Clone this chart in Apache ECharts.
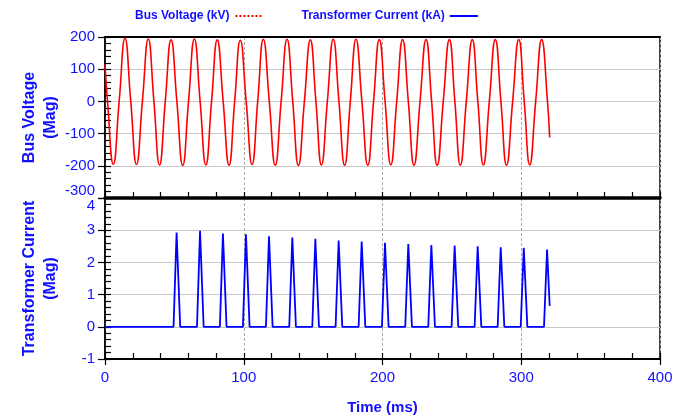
<!DOCTYPE html>
<html>
<head>
<meta charset="utf-8">
<script src="https://cdn.jsdelivr.net/npm/echarts@6/dist/echarts.min.js"></script>
<style>html,body{margin:0;padding:0;background:#fff}#c{width:683px;height:419px}</style>
</head>
<body>
<div id="c"></div>
<script>
// Bus voltage (kV): extremes and zero crossings
var voltageTimes = [0, 1.8, 6.0, 10.2, 14.4, 18.55, 22.7, 26.95, 31.2, 35.25, 39.3, 43.45, 47.6, 51.8, 56.0, 60.2, 64.4, 68.55, 72.7, 76.8, 80.9, 85.15, 89.4, 93.45, 97.5, 101.75, 106.0, 110.05, 114.1, 118.4, 122.7, 126.95, 131.2, 135.3, 139.4, 143.7, 148.0, 152.0, 156.0, 160.25, 164.5, 168.6, 172.7, 176.8, 180.9, 185.15, 189.4, 193.55, 197.7, 201.85, 206.0, 210.25, 214.5, 218.6, 222.7, 227.05, 231.4, 235.4, 239.4, 243.8, 248.2, 252.15, 256.1, 260.4, 264.7, 268.7, 272.7, 277.0, 281.3, 285.35, 289.4, 293.8, 298.2, 302.15, 306.1, 310.4, 314.7, 318.9, 320.5];
var voltageValues = [115, 0, -195, 0, 196, 0, -196, 0, 194, 0, -197, 0, 191, 0, -199, 0, 194, 0, -197, 0, 191, 0, -198, 0, 190, 0, -196, 0, 193, 0, -198, 0, 193, 0, -199, 0, 191, 0, -197, 0, 193, 0, -198, 0, 193, 0, -198, 0, 192, 0, -197, 0, 192, 0, -198, 0, 192, 0, -198, 0, 192, 0, -198, 0, 192, 0, -197, 0, 192, 0, -198, 0, 192, 0, -197, 0, 192, 0, -112];

// Transformer current (kA): pulses
var pulseStartTimes = [49.4, 66.3, 82.8, 99.4, 116.0, 132.8, 149.4, 166.2, 182.8, 199.6, 216.4, 233.0, 249.8, 266.4, 283.0, 299.6, 316.4];
var pulsePeakTimes  = [51.6, 68.5, 85.0, 101.6, 118.2, 135.0, 151.6, 168.4, 185.0, 201.8, 218.6, 235.2, 252.0, 268.6, 285.2, 301.8, 318.6];
var pulsePeakValues = [2.93, 2.98, 2.90, 2.87, 2.81, 2.77, 2.73, 2.68, 2.65, 2.61, 2.57, 2.54, 2.52, 2.50, 2.47, 2.45, 2.40];
var pulseEndTimes   = [54.2, 71.1, 87.6, 104.2, 120.8, 137.6, 154.2, 171.0, 187.6, 204.4, 221.2, 237.8, 254.6, 271.2, 287.8, 304.4, 320.5];
var pulseEndValues  = [0, 0, 0, 0, 0, 0, 0, 0, 0, 0, 0, 0, 0, 0, 0, 0, 0.65];

var voltageTicks = [-300, -200, -100, 0, 100, 200];
var currentTicks = [-1, 0, 1, 2, 3, 4];
var timeTicks = [0, 100, 200, 300, 400];

var voltageData = voltageTimes.map(function (t, i) { return [t, voltageValues[i]]; });
var currentData = [[0, 0]];
pulsePeakTimes.forEach(function (t, i) {
  currentData.push([pulseStartTimes[i], 0]);
  currentData.push([t, pulsePeakValues[i]]);
  currentData.push([pulseEndTimes[i], pulseEndValues[i]]);
});

var BLUE = '#1010ff';
var FONT = '"Liberation Sans", Arial, sans-serif';
var GRID_GREY = '#c8c8c8';
var DOTTED_ICON = 'path://M0,0h2v2h-2z M4,0h2v2h-2z M8,0h2v2h-2z M12,0h2v2h-2z M16,0h2v2h-2z M20,0h2v2h-2z M24,0h2v2h-2z';

function tickAxis(grid, dir, min, max, interval) {
  var a = {
    gridIndex: grid, type: 'value', min: min, max: max, interval: interval,
    axisLine: {show: false, onZero: false}, axisLabel: {show: false}, splitLine: {show: false},
    axisTick: {show: true, inside: true, length: 6, lineStyle: {color: '#000', width: 1.2}}
  };
  if (dir === 'x') a.position = 'bottom'; else a.position = 'left';
  return a;
}

var chart = echarts.init(document.getElementById('c'), null, {renderer: 'canvas'});
chart.setOption({
  animation: false,
  backgroundColor: '#fff',
  textStyle: {fontFamily: FONT},
  legend: {
    left: 130, top: 5, align: 'right', itemWidth: 28, itemHeight: 2, itemGap: 40,
    textStyle: {color: BLUE, fontWeight: 'bold', fontSize: 12, fontFamily: FONT},
    data: [
      {name: 'Bus Voltage (kV)', icon: DOTTED_ICON},
      {name: 'Transformer Current (kA)', icon: 'rect'}
    ]
  },
  grid: [
    {left: 105, top: 37, width: 555, height: 161, show: true, borderColor: '#000', borderWidth: 1.5},
    {left: 105, top: 198, width: 555, height: 161, show: true, borderColor: '#000', borderWidth: 1.5}
  ],
  xAxis: [
    {gridIndex: 0, type: 'value', min: timeTicks[0], max: timeTicks[timeTicks.length - 1], interval: 100, position: 'bottom',
     axisLine: {show: true, onZero: false, lineStyle: {color: '#000', width: 3.5}},
     axisTick: {show: false}, axisLabel: {show: false},
     splitLine: {show: true, lineStyle: {color: '#aaa', type: [3, 2], width: 1}}},
    tickAxis(0, 'x', 0, 400, 20),
    {gridIndex: 0, type: 'value', min: 0, max: 400, interval: 100, position: 'top',
     axisLine: {show: true, onZero: false, lineStyle: {color: '#000', width: 2}},
     axisTick: {show: false}, axisLabel: {show: false}, splitLine: {show: false}},
    {gridIndex: 1, type: 'value', min: timeTicks[0], max: timeTicks[timeTicks.length - 1], interval: 100, position: 'bottom',
     name: 'Time (ms)', nameLocation: 'middle', nameGap: 41, nameMoveOverlap: false,
     nameTextStyle: {color: BLUE, fontWeight: 'bold', fontSize: 15, fontFamily: FONT},
     axisLine: {show: true, onZero: false, lineStyle: {color: '#000', width: 2}},
     axisTick: {show: true, inside: false, length: 6, lineStyle: {color: '#000', width: 1.2}},
     axisLabel: {show: true, color: BLUE, fontSize: 15, margin: 11, fontFamily: FONT},
     splitLine: {show: true, lineStyle: {color: '#aaa', type: [3, 2], width: 1}}},
    tickAxis(1, 'x', 0, 400, 20)
  ],
  yAxis: [
    {gridIndex: 0, type: 'value', min: voltageTicks[0], max: voltageTicks[voltageTicks.length - 1], interval: 100, position: 'left',
     name: 'Bus Voltage\n(Mag)', nameLocation: 'middle', nameRotate: 90, nameGap: 44, nameMoveOverlap: false,
     nameTextStyle: {color: BLUE, fontWeight: 'bold', fontSize: 16, lineHeight: 21, fontFamily: FONT},
     axisLine: {show: true, onZero: false, lineStyle: {color: '#000', width: 1.5}},
     axisTick: {show: true, inside: false, length: 7, lineStyle: {color: '#000', width: 1.2}},
     axisLabel: {show: true, color: BLUE, fontSize: 15, margin: 10, fontFamily: FONT, verticalAlignMinLabel: 'bottom'},
     splitLine: {show: true, lineStyle: {color: GRID_GREY, width: 1.2}}},
    tickAxis(0, 'y', -300, 200, 20),
    {gridIndex: 1, type: 'value', min: currentTicks[0], max: currentTicks[currentTicks.length - 1], interval: 1, position: 'left',
     name: 'Transformer Current\n(Mag)', nameLocation: 'middle', nameRotate: 90, nameGap: 44, nameMoveOverlap: false,
     nameTextStyle: {color: BLUE, fontWeight: 'bold', fontSize: 16, lineHeight: 21, fontFamily: FONT},
     axisLine: {show: true, onZero: false, lineStyle: {color: '#000', width: 1.5}},
     axisTick: {show: true, inside: false, length: 7, lineStyle: {color: '#000', width: 1.2}},
     axisLabel: {show: true, color: BLUE, fontSize: 15, margin: 10, fontFamily: FONT, verticalAlignMaxLabel: 'top'},
     splitLine: {show: true, lineStyle: {color: GRID_GREY, width: 1.2}}},
    tickAxis(1, 'y', -1, 4, 0.2)
  ],
  series: [
    {name: 'Bus Voltage (kV)', type: 'line', xAxisIndex: 0, yAxisIndex: 0, data: voltageData,
     smooth: 0.5, symbol: 'none', lineStyle: {color: '#ff0000', width: 1.6}, itemStyle: {color: '#ff0000'}, z: 5},
    {name: 'Transformer Current (kA)', type: 'line', xAxisIndex: 3, yAxisIndex: 2, data: currentData,
     symbol: 'none', lineStyle: {color: '#0000ff', width: 1.8}, itemStyle: {color: '#0000ff'}, z: 5}
  ]
});
</script>
</body>
</html>
